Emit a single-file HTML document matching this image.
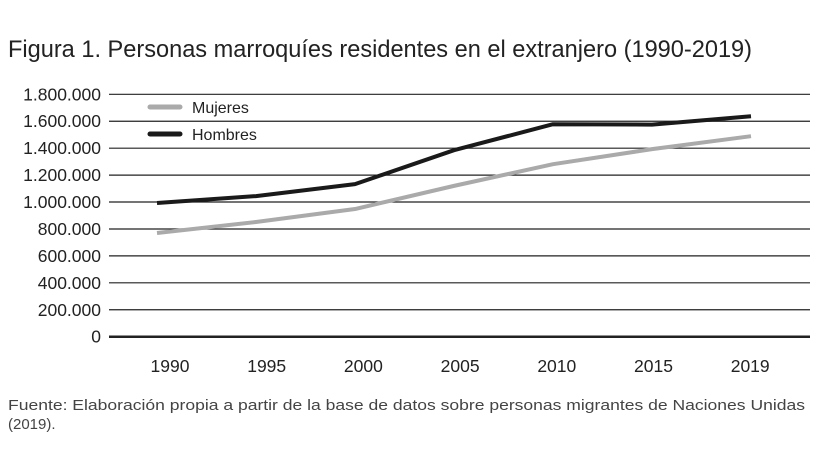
<!DOCTYPE html>
<html><head><meta charset="utf-8"><style>
body{margin:0;background:#fff;}
svg{display:block;font-family:"Liberation Sans",sans-serif;}
</style></head><body>
<svg id="chart" width="818" height="459">
<text x="8" y="57" font-size="24" fill="#222" textLength="744" lengthAdjust="spacingAndGlyphs">Figura 1. Personas marroquíes residentes en el extranjero (1990-2019)</text>
<g id="grid"></g><g id="series"></g>
<g>
<line x1="150" y1="107" x2="180" y2="107" stroke="#aaa" stroke-width="5" stroke-linecap="round"/>
<text x="192" y="113" font-size="16" fill="#222">Mujeres</text>
<line x1="150" y1="134" x2="180" y2="134" stroke="#1a1a1a" stroke-width="5" stroke-linecap="round"/>
<text x="192" y="140" font-size="16" fill="#222">Hombres</text>
</g>
<text x="8" y="410" font-size="15" fill="#444" textLength="797" lengthAdjust="spacingAndGlyphs">Fuente: Elaboración propia a partir de la base de datos sobre personas migrantes de Naciones Unidas</text>
<text x="8" y="429" font-size="15" fill="#444">(2019).</text>
</svg>
<script>
const years=["1990","1995","2000","2005","2010","2015","2019"];
const mujeres=[770000,852000,948000,1120000,1281000,1393000,1489000];
const hombres=[993000,1044000,1133000,1385000,1578000,1575000,1637000];
const ticks=[0,200000,400000,600000,800000,1000000,1200000,1400000,1600000,1800000];
const tickLabels=["0","200.000","400.000","600.000","800.000","1.000.000","1.200.000","1.400.000","1.600.000","1.800.000"];
const NS="http://www.w3.org/2000/svg";
const y=v=>336.7-v*(242.4/1800000);
const xp=i=>157+i*99;
const xl=i=>170+i*96.7;
const grid=document.getElementById('grid'),ser=document.getElementById('series');
function mk(t,a,p){const e=document.createElementNS(NS,t);for(const k in a)e.setAttribute(k,a[k]);p.appendChild(e);return e;}
ticks.forEach((v,i)=>{
 const l=mk('line',{x1:109,x2:810,y1:y(v),y2:y(v),stroke:'#222','stroke-width':v===0?2.5:1.2},grid);
 
 
 const t=mk('text',{x:101,y:y(v)+6,'text-anchor':'end','font-size':17.5,fill:'#222'},grid);
 t.textContent=tickLabels[i];
 
 
});
years.forEach((yr,i)=>{
 const t=mk('text',{x:xl(i),y:372,'text-anchor':'middle','font-size':17.5,fill:'#222'},grid);
 t.textContent=yr;
 
 
});
function line(d,c,n){
 const p=mk('polyline',{points:d.map((v,i)=>xp(i)+','+y(v)).join(' '),fill:'none',stroke:c,'stroke-width':4,'stroke-linejoin':'round'},ser);
 
 
}
line(mujeres,'#aaa','mujeres-line');
line(hombres,'#1a1a1a','hombres-line');
</script>
</body></html>
